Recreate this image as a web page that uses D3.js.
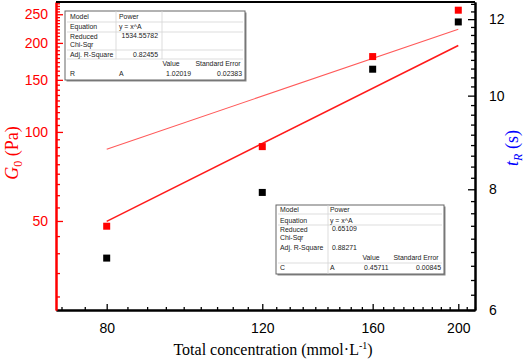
<!DOCTYPE html>
<html><head><meta charset="utf-8">
<script src="https://cdn.jsdelivr.net/npm/d3@7"></script>
<style>
html,body{margin:0;padding:0;background:#fff;}
svg{display:block;}
</style></head>
<body>
<svg id="chart" width="526" height="362"></svg>
<script>
// ---- data ----
const concentrations = [80, 120, 160, 200];
const g0Values = [48.0, 89.2, 179.8, 258];      // G0 (Pa), left axis, red squares
const tRValues = [6.79, 7.94, 10.65, 11.92];    // tR (s), right axis, black squares
const fitX = [80, 200];
const g0Fit = [87.4, 222.6];                    // y = x^1.02019
const tRFit = [7.41, 11.27];                    // y = x^0.45711
const xTickLabels = [80, 120, 160, 200];
const leftTickLabels = [50, 100, 150, 200, 250];
const rightTickLabels = [6, 8, 10, 12];
const table1 = {model:"Power", eq:"y = x^A", chi:"1534.55782", r2:"0.82455", name:"R", param:"A", value:"1.02019", se:"0.02383"};
const table2 = {model:"Power", eq:"y = x^A", chi:"0.65109", r2:"0.88271", name:"C", param:"A", value:"0.45711", se:"0.00845"};

const svg = d3.select("#chart");
const L = 56, R = 475, T = 2, B = 310;
const x = d3.scaleLog().domain([70.1, 208.9]).range([L, R]);
const yL = d3.scaleLog().domain([25, 275]).range([B, T]);
const yR = d3.scaleLog().domain([6, 12.5]).range([B, T]);

const sans = "'Liberation Sans', Arial, sans-serif";
const serif = "'Liberation Serif', 'Times New Roman', serif";

// minor tick helper (Origin-style: 8 minors linearly between majors)
function minors(step, lo, hi, domain) {
  const out = [];
  for (let m = lo; m < hi; m += step) {
    for (let k = 1; k <= 8; k++) {
      const v = m + k * step / 9;
      if (v > domain[0] && v < domain[1]) out.push(v);
    }
  }
  return out;
}

// ---- bottom axis ----
const gx = svg.append("g").attr("transform", `translate(0,${B})`);
gx.call(d3.axisBottom(x).tickValues(xTickLabels).tickSizeInner(-6).tickSizeOuter(0).tickPadding(13).tickFormat(d3.format("d")));
gx.append("g").call(d3.axisBottom(x).tickValues(minors(40, 40, 240, x.domain())).tickSizeInner(-3).tickSizeOuter(0).tickFormat(""));
gx.selectAll("path.domain").attr("stroke", "#000").attr("stroke-width", 2);
gx.selectAll(".tick line").attr("stroke", "#000").attr("stroke-width", 1.3);
gx.selectAll("text").attr("font-family", sans).attr("font-size", 14).attr("fill", "#000");

// ---- left axis ----
const gl = svg.append("g").attr("transform", `translate(${L},0)`);
gl.call(d3.axisLeft(yL).tickValues(leftTickLabels).tickSizeInner(-7).tickSizeOuter(0).tickPadding(8).tickFormat(d3.format("d")));
gl.append("g").call(d3.axisLeft(yL).tickValues(minors(50, 0, 300, yL.domain())).tickSizeInner(-4).tickSizeOuter(0).tickFormat(""));
gl.selectAll("path.domain").attr("stroke", "#ff0000").attr("stroke-width", 2);
gl.selectAll(".tick line").attr("stroke", "#ff0000").attr("stroke-width", 1.3);
gl.selectAll("text").attr("font-family", sans).attr("font-size", 14).attr("fill", "#ff0000");

// ---- right axis ----
const gr = svg.append("g").attr("transform", `translate(${R},0)`);
gr.call(d3.axisRight(yR).tickValues(rightTickLabels).tickSizeInner(-7).tickSizeOuter(0).tickPadding(14).tickFormat(d3.format("d")));
gr.append("g").call(d3.axisRight(yR).tickValues(minors(2, 4, 14, yR.domain())).tickSizeInner(-4).tickSizeOuter(0).tickFormat(""));
gr.selectAll("path.domain").attr("stroke", "#000").attr("stroke-width", 2);
gr.selectAll(".tick line").attr("stroke", "#000").attr("stroke-width", 1.3);
gr.selectAll("text").attr("font-family", sans).attr("font-size", 14).attr("fill", "#000");

// top frame
svg.append("line").attr("x1", L).attr("x2", R).attr("y1", T).attr("y2", T).attr("stroke", "#000").attr("stroke-width", 2);

// ---- fit lines ----
const line = (ys) => d3.line().x((d, i) => x(fitX[i])).y(d => ys(d));
svg.append("path").datum(g0Fit).attr("d", line(yL)).attr("fill", "none").attr("stroke", "#ff5a5a").attr("stroke-width", 1.1);
svg.append("path").datum(tRFit).attr("d", line(yR)).attr("fill", "none").attr("stroke", "#ff1a1a").attr("stroke-width", 1.5);

// ---- points ----
const S = 7;
svg.append("g").selectAll("rect").data(concentrations).join("rect")
  .attr("x", d => x(d) - S / 2).attr("y", (d, i) => yL(g0Values[i]) - S / 2)
  .attr("width", S).attr("height", S).attr("fill", "#ff0000");
svg.append("g").selectAll("rect").data(concentrations).join("rect")
  .attr("x", d => x(d) - S / 2).attr("y", (d, i) => yR(tRValues[i]) - S / 2)
  .attr("width", S).attr("height", S).attr("fill", "#000");

// ---- axis titles ----
const xt = svg.append("text").attr("x", 273).attr("y", 355).attr("text-anchor", "middle")
  .attr("font-family", serif).attr("font-size", 16).attr("fill", "#000");
xt.append("tspan").text("Total concentration (mmol·L");
xt.append("tspan").text("-1").attr("font-size", 10).attr("dy", -6);
xt.append("tspan").text(")").attr("dy", 6);

const lt = svg.append("text").attr("transform", "translate(18,153) rotate(-90)").attr("text-anchor", "middle")
  .attr("font-family", serif).attr("font-size", 18).attr("fill", "#ff0000");
lt.append("tspan").text("G").attr("font-style", "italic");
lt.append("tspan").text("0").attr("font-size", 12).attr("dy", 4);
lt.append("tspan").text(" (Pa)").attr("dy", -4);

const rt = svg.append("text").attr("transform", "translate(518,148) rotate(-90)").attr("text-anchor", "middle")
  .attr("font-family", serif).attr("font-size", 18).attr("fill", "#0000ff");
rt.append("tspan").text("t").attr("font-style", "italic");
rt.append("tspan").text("R").attr("font-style", "italic").attr("font-size", 12).attr("dy", 4);
rt.append("tspan").text(" (s)").attr("dy", -4);

// ---- result tables ----
function drawTable(t, bx, by, bw, bh, cfg) {
  const g = svg.append("g").attr("font-family", sans).attr("font-size", 6.9).attr("fill", "#222");
  g.append("rect").attr("x", bx + 1.5).attr("y", by + 1.5).attr("width", bw).attr("height", bh).attr("fill", "#888");
  g.append("rect").attr("x", bx).attr("y", by).attr("width", bw).attr("height", bh).attr("fill", "#fff").attr("stroke", "#666").attr("stroke-width", 1);
  cfg.hlines.forEach(yy => g.append("line").attr("x1", bx + 2).attr("x2", bx + bw - 2).attr("y1", by + yy).attr("y2", by + yy).attr("stroke", "#d4d4d4").attr("stroke-width", 0.8));
  cfg.vlines.forEach(v => g.append("line").attr("x1", bx + v[0]).attr("x2", bx + v[0]).attr("y1", by + v[1]).attr("y2", by + v[2]).attr("stroke", "#d4d4d4").attr("stroke-width", 0.8));
  const tx = (s, xx, yy, anchor) => g.append("text").attr("x", bx + xx).attr("y", by + yy).attr("text-anchor", anchor || "start").text(s);
  const c = cfg.cols, r = cfg.rows;
  tx("Model", c[0], r[0]); tx(t.model, c[1], r[0]);
  tx("Equation", c[0], r[1]); tx(t.eq, c[1], r[1]);
  tx("Reduced", c[0], r[2]); tx("Chi-Sqr", c[0], r[2] + 8.2);
  tx(t.chi, cfg.numX, r[2] - 1, cfg.numAnchor);
  tx("Adj. R-Square", c[0], r[3]); tx(t.r2, cfg.numX, r[3], cfg.numAnchor);
  tx("Value", cfg.valX, r[4], "middle"); tx("Standard Error", cfg.seX, r[4], "middle");
  tx(t.name, c[0], r[5]); tx(t.param, c[1], r[5]);
  tx(t.value, cfg.valR, r[5], "end"); tx(t.se, bw - 3, r[5], "end");
}
drawTable(table1, 65, 11, 180, 69, {
  cols: [5, 54], rows: [8, 18, 27.5, 45.5, 54.5, 65],
  numX: 93, numAnchor: "end", valX: 106, seX: 153, valR: 126,
  hlines: [11, 21, 39, 48], vlines: [[51, 0, 48], [97, 0, 48]]
});
drawTable(table2, 276, 205, 168, 69, {
  cols: [4, 54], rows: [6.5, 17.5, 26.5, 45, 54.5, 64.5],
  numX: 56, numAnchor: "start", valX: 95, seX: 140, valR: 112.5,
  hlines: [9, 20, 58], vlines: [[52, 0, 69]]
});
</script>
</body></html>
